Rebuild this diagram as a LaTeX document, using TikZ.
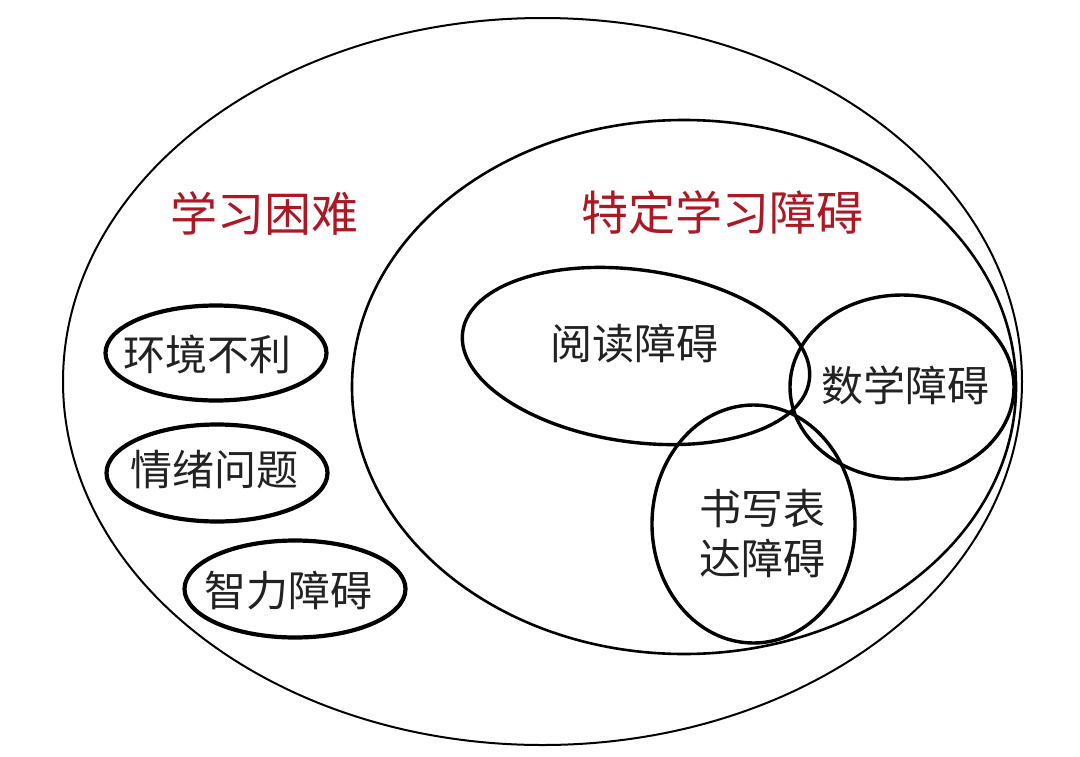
\documentclass[tikz,border=0pt]{standalone}
\usepackage{fontspec}
\setmainfont{Noto Sans CJK SC}
\usetikzlibrary{shapes.geometric}
\definecolor{labelred}{RGB}{172,24,36}
\definecolor{ink}{RGB}{34,34,34}
\begin{document}
\begin{tikzpicture}[x=1pt,y=-1pt,
  ring/.style={draw=black, ellipse, inner sep=0pt, outer sep=0pt},
  smallring/.style={ring, line width=4.2pt, minimum width=221pt, minimum height=95pt},
  vennring/.style={ring, line width=3.4pt},
  blacktext/.style={text=ink, font=\fontsize{42}{50}\selectfont, inner sep=0pt, align=center},
  redtext/.style={text=labelred, font=\fontsize{47}{56}\selectfont, inner sep=0pt}
]
\useasboundingbox (0,0) rectangle (1080,756);
\fill[white] (0,0) rectangle (1080,756);

% outer: learning difficulties
\node[ring, line width=2pt, minimum width=959pt, minimum height=727pt] (outer) at (542.5,381.5) {};
% inner: specific learning disorders
\node[ring, line width=2.6pt, minimum width=664pt, minimum height=534pt] (inner) at (684,387) {};

% small ellipses on the left
\node[smallring] (env) at (216,353) {};
\node[smallring, minimum height=97pt] (emo) at (217,473) {};
\node[smallring, minimum height=97pt] (iq) at (295,589) {};

% venn ellipses
\node[vennring, rotate=-8, minimum width=350pt, minimum height=172pt] (read) at (636,356) {};
\node[vennring, minimum width=224pt, minimum height=184pt] (math) at (902,387) {};
\node[vennring, minimum width=203pt, minimum height=238pt] (write) at (753.5,524) {};

% labels
\node[redtext] (ldlabel) at (264,213) {学习困难};
\node[redtext] (sldlabel) at (722,212) {特定学习障碍};

\node[blacktext] (envtext) at (207,354) {环境不利};
\node[blacktext] (emotext) at (214,470) {情绪问题};
\node[blacktext] (iqtext) at (288,591) {智力障碍};
\node[blacktext] (readtext) at (634,344) {阅读障碍};
\node[blacktext] (mathtext) at (905,385) {数学障碍};
\node[blacktext] (writetext) at (762,534) {书写表\\达障碍};
\end{tikzpicture}
\end{document}
